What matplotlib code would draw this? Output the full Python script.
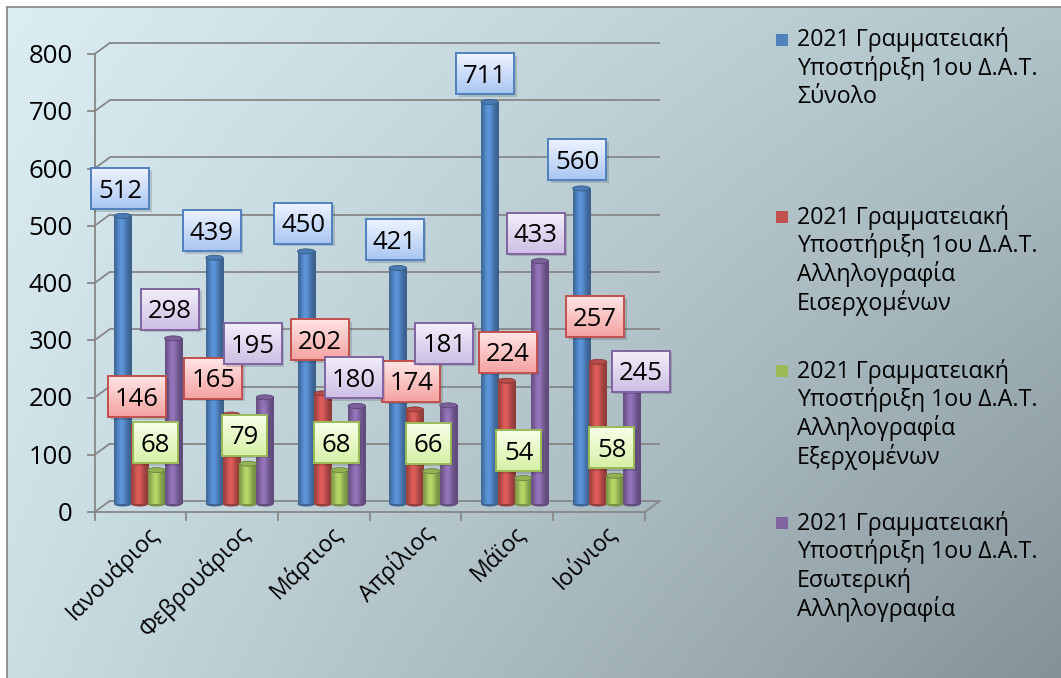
import numpy as np
import matplotlib
matplotlib.use("Agg")
import matplotlib.pyplot as plt
from matplotlib.patches import Rectangle, Ellipse

plt.rcParams['font.family'] = ['Open Sans', 'DejaVu Sans']

# ---------------- data ----------------
months = ['Ιανουάριος', 'Φεβρουάριος', 'Μάρτιος', 'Απρίλιος', 'Μάϊος', 'Ιούνιος']
series_names = [
    '2021 Γραμματειακή\nΥποστήριξη 1ου Δ.Α.Τ.\nΣύνολο',
    '2021 Γραμματειακή\nΥποστήριξη 1ου Δ.Α.Τ.\nΑλληλογραφία\nΕισερχομένων',
    '2021 Γραμματειακή\nΥποστήριξη 1ου Δ.Α.Τ.\nΑλληλογραφία\nΕξερχομένων',
    '2021 Γραμματειακή\nΥποστήριξη 1ου Δ.Α.Τ.\nΕσωτερική\nΑλληλογραφία',
]
total = [512, 439, 450, 421, 711, 560]
incoming = [146, 165, 202, 174, 224, 257]
outgoing = [68, 79, 68, 66, 54, 58]
internal = [298, 195, 180, 181, 433, 245]
y_ticks = [0, 100, 200, 300, 400, 500, 600, 700, 800]

series = [total, incoming, outgoing, internal]

# ---------------- styles ----------------
colors = ['#4F81BD', '#C0504D', '#9BBB59', '#8064A2']
box_top = ['#EEF3FF', '#FFE4E4', '#F8FFE8', '#F3EEFA']
box_bot = ['#A9C6F2', '#F4A3A1', '#D6F0A6', '#CDBFE4']
# label offsets (pixels, image coords) of box centre from bar top
label_dx = [[-2.5, -3, -3, -3, -4.5, -4],
            [-2.5, -18, -3, -3.5, 1.5, -3],
            [-1, -3.5, -3.5, -3.5, -4.5, -3],
            [-3, -12, -3, -4, -4.5, 9]]
label_dy = [[-24.5, -24.5, -25.5, -25.5, -25.5, -26],
            [-26, -34, -51, -25.5, -26, -42.5],
            [-25, -26, -25, -25.5, -25, -25.5],
            [-26.5, -51, -25.5, -59.5, -25.5, 5]]
FS = 18.5      # tick / data label font size
FS_CAT = 16.5  # category label font size
FS_LEG = 16.7  # legend font size

W, H = 1061, 678
fig = plt.figure(figsize=(W / 100, H / 100), dpi=100)

# ---------------- background ----------------
bg = fig.add_axes([0, 0, 1, 1])
bg.set_xlim(0, W)
bg.set_ylim(H, 0)
bg.axis('off')
yy, xx = np.mgrid[0:H, 0:W]
u = np.clip((xx - 7) / (W - 7), 0, 1)[..., None]
v = np.clip((yy - 7) / (H - 7), 0, 1)[..., None]
TL = np.array([220, 238, 244]) / 255
TR = np.array([176, 196, 202]) / 255
BL = np.array([202, 222, 228]) / 255
BR = np.array([132, 146, 151]) / 255
img = TL * (1 - u) * (1 - v) + TR * u * (1 - v) + BL * (1 - u) * v + BR * u * v
img[(xx < 7) | (yy < 7)] = 1.0
bg.imshow(img, extent=[0, W, H, 0], interpolation='nearest', aspect='auto', zorder=0)
bg.plot([7, 7], [7, H], color='#8C8C8C', lw=1.3, zorder=1)
bg.plot([7, W], [7, 7], color='#8C8C8C', lw=1.3, zorder=1)

# ---------------- legend (manual, Excel style) ----------------
legend_y = [40, 217, 371, 523]
line_h = 28.7
for j, name in enumerate(series_names):
    bg.add_patch(Rectangle((776, legend_y[j] - 6), 12, 12, facecolor=colors[j],
                           edgecolor='none', zorder=2))
    for k, line in enumerate(name.split('\n')):
        bg.text(797, legend_y[j] + k * line_h, line, fontsize=FS_LEG, ha='left',
                va='center', color='black', zorder=3)

# ---------------- main axes ----------------
ax_l, ax_r = 102.15, 652.35
ax_b, ax_t = 506.5, 48.5
ax = fig.add_axes([ax_l / W, 1 - ax_b / H, (ax_r - ax_l) / W, (ax_b - ax_t) / H])
ax.set_zorder(2)
ax.patch.set_visible(False)
ax.axis('off')
n = len(months)
xmin, xmax = -0.5, n - 0.5
ymin, ymax = 0, 800
px_x = (ax_r - ax_l) / (xmax - xmin)
px_y = (ax_b - ax_t) / (ymax - ymin)
DX = 7.5 / px_x
DY = 5.5 / px_y
grid_c = '#878787'

# back wall gridlines and side diagonals, front y axis
for t in y_ticks:
    ax.plot([xmin + DX, xmax + DX], [t + DY, t + DY], color=grid_c, lw=1.3,
            clip_on=False, zorder=1, solid_capstyle='butt')
    ax.plot([xmin - DX, xmin + DX], [t - DY, t + DY], color=grid_c, lw=1.3,
            clip_on=False, zorder=1)
    ax.plot([xmin - DX - 7 / px_x, xmin - DX], [t - DY, t - DY], color=grid_c, lw=1.3,
            clip_on=False, zorder=1)
    ax.text(xmin - DX - 22 / px_x, t - DY - 9 / px_y, str(t), ha='right',
            va='baseline', fontsize=FS, clip_on=False)
ax.plot([xmin - DX, xmin - DX], [-DY, y_ticks[-1] - DY], color=grid_c, lw=1.3,
        clip_on=False, zorder=1)
# floor
ax.plot([xmin - DX, xmax - DX], [-DY, -DY], color=grid_c, lw=1.3, clip_on=False, zorder=1)
ax.plot([xmax - DX, xmax + DX], [-DY, DY], color=grid_c, lw=1.3, clip_on=False, zorder=1)
for k in range(n + 1):
    xk = xmin + k - DX
    ax.plot([xk, xk], [-DY, -DY - 8 / px_y], color=grid_c, lw=1.3, clip_on=False, zorder=1)

# month labels
for i, m in enumerate(months):
    ax.text(i - 2 / px_x, -DY - 9 / px_y, m, rotation=45, rotation_mode='anchor',
            ha='right', va='top', fontsize=FS_CAT, clip_on=False)


def shade(hexcol, N=64):
    base = np.array(matplotlib.colors.to_rgb(hexcol))
    t = np.linspace(0, 1, N)
    f = 0.74 + 0.42 * np.exp(-((t - 0.42) / 0.3) ** 2)
    rgb = np.clip(base[None, :] * f[:, None], 0, 1)
    return rgb[None, :, :]


bar_step = 16.8 / px_x
bar_w = 17.4 / px_x
cap = 5.0 / px_y
for j, vals in enumerate(series):
    vals = np.array(vals, dtype=float)
    xs = np.arange(n) + (j - 1.5) * bar_step
    base = np.array(matplotlib.colors.to_rgb(colors[j]))
    bars = ax.bar(xs, vals - cap, width=bar_w, bottom=cap / 2, color=colors[j],
                  edgecolor='none', zorder=3 + j * 0.01)
    g = shade(colors[j])
    for x, val, b in zip(xs, vals, bars):
        ax.add_patch(Ellipse((x, cap / 2), bar_w, cap, facecolor=base * 0.78,
                             edgecolor='none', zorder=2.9))
        im = ax.imshow(g, extent=[x - bar_w / 2, x + bar_w / 2, cap / 2, val - cap / 2],
                       aspect='auto', interpolation='bilinear', zorder=3 + j * 0.01)
        im.set_clip_path(b)
        ax.add_patch(Ellipse((x, val - cap / 2), bar_w, cap, facecolor=np.clip(base * 0.95, 0, 1),
                             edgecolor=base * 0.7, lw=0.6, zorder=3.05 + j * 0.01))

# data labels
box_h = 41
for j, vals in enumerate(series):
    xs = np.arange(n) + (j - 1.5) * bar_step
    c0 = np.array(matplotlib.colors.to_rgb(box_top[j]))
    c1 = np.array(matplotlib.colors.to_rgb(box_bot[j]))
    tt = np.linspace(0, 1, 32)[:, None]
    bgrad = (c0 * (1 - tt) + c1 * tt)[:, None, :]
    for i, val in enumerate(vals):
        cx = xs[i] + label_dx[j][i] / px_x
        cy = val - label_dy[j][i] / px_y
        wpx = 58 if val >= 100 else 45
        hw = wpx / 2 / px_x
        hh = box_h / 2 / px_y
        z = 10 + j * 2
        ax.add_patch(Rectangle((cx - hw + 2.5 / px_x, cy - hh - 2.5 / px_y), 2 * hw, 2 * hh,
                               facecolor=(0, 0, 0, 0.15), edgecolor='none', zorder=z,
                               clip_on=False))
        im = ax.imshow(bgrad, extent=[cx - hw, cx + hw, cy - hh, cy + hh], aspect='auto',
                       interpolation='bilinear', zorder=z + 0.1)
        im.set_clip_on(False)
        ax.add_patch(Rectangle((cx - hw, cy - hh), 2 * hw, 2 * hh, fill=False,
                               edgecolor=colors[j], lw=1.4, zorder=z + 0.2, clip_on=False))
        ax.text(cx, cy - 9 / px_y, str(val), ha='center', va='baseline', fontsize=FS,
                zorder=z + 0.3, clip_on=False)

ax.set_xlim(xmin, xmax)
ax.set_ylim(ymin, ymax)

fig.savefig('out.png', dpi=100)
